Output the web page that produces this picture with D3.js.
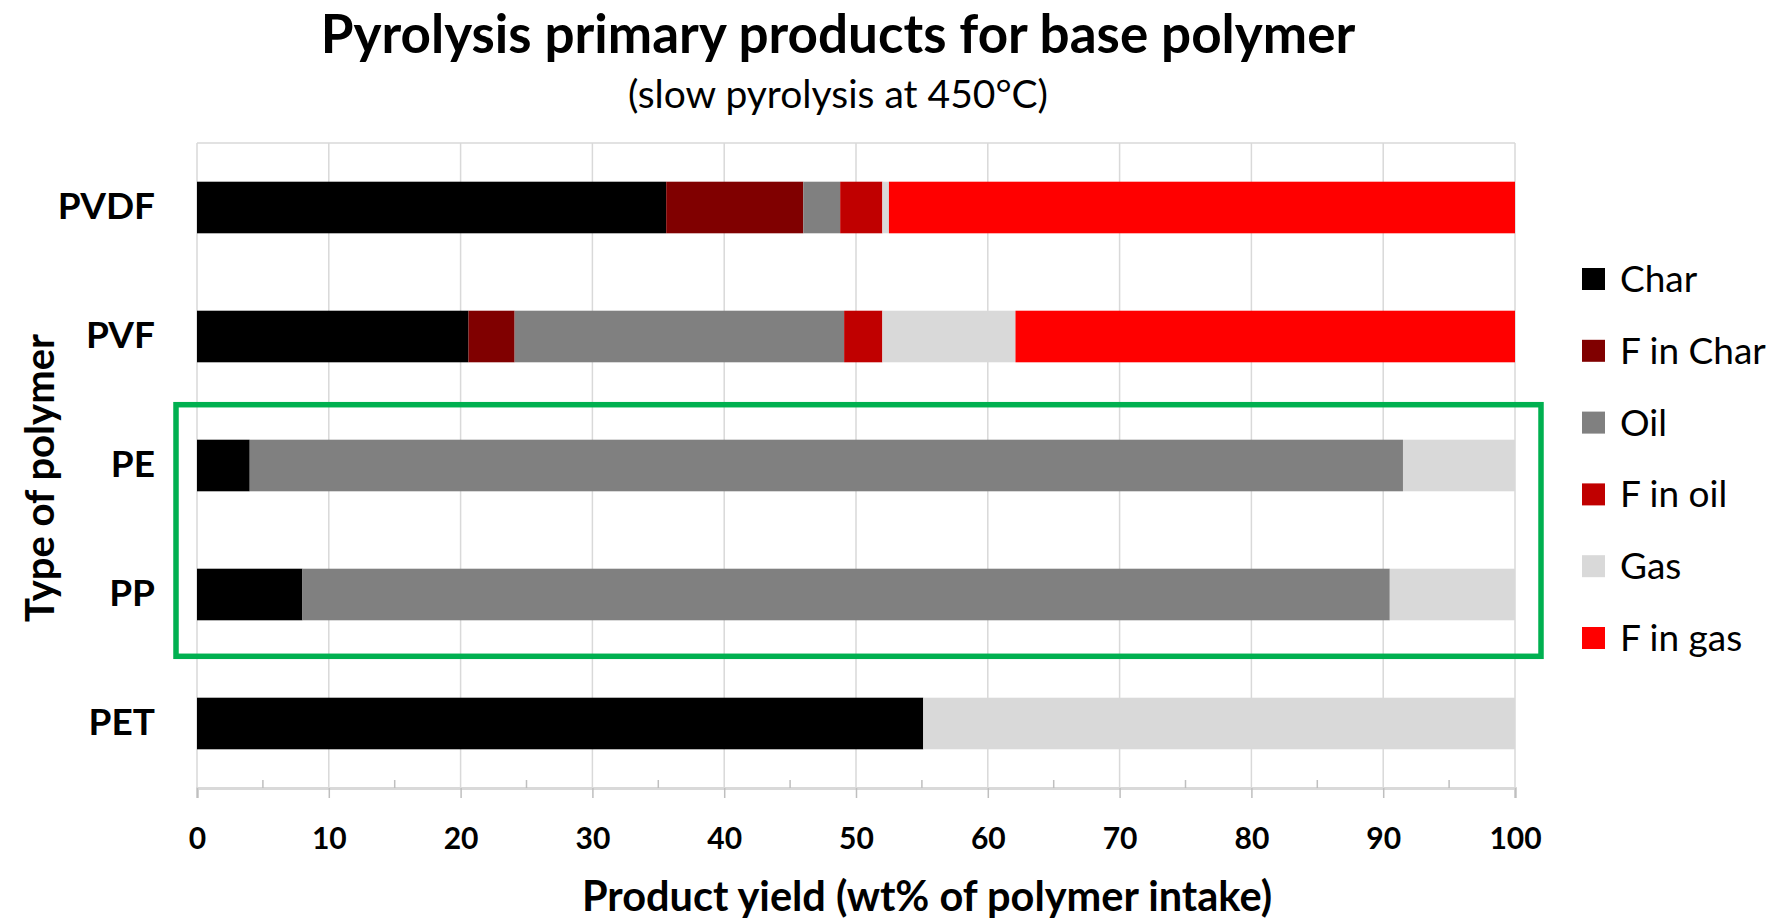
<!DOCTYPE html>
<html>
<head>
<meta charset="utf-8">
<script src="https://cdn.jsdelivr.net/npm/d3@7"></script>
<style>
  body { margin: 0; background: #fff; }
  svg { display: block; font-family: Lato, "Open Sans", sans-serif; }
</style>
</head>
<body>
<div class="container"></div>
<script>
// categories, top to bottom
const polymers = ['PVDF', 'PVF', 'PE', 'PP', 'PET'];

// product series (stack order left to right)
const products = ['Char', 'F in Char', 'Oil', 'F in oil', 'Gas', 'F in gas'];
const productColors = ['#000000', '#800000', '#808080', '#c00000', '#d9d9d9', '#ff0000'];

// values per series, in the order of polymers
const charVals    = [35.6, 20.6, 4.0, 8.0, 55.1];
const fCharVals   = [10.4, 3.5, 0, 0, 0];
const oilVals     = [2.8, 25.0, 87.5, 82.5, 0];
const fOilVals    = [3.2, 2.9, 0, 0, 0];
const gasVals     = [0.5, 10.1, 8.5, 9.5, 44.9];
const fGasVals    = [47.5, 37.9, 0, 0, 0];

const xTicks = [0, 10, 20, 30, 40, 50, 60, 70, 80, 90, 100];
const xMinorTicks = [5, 15, 25, 35, 45, 55, 65, 75, 85, 95];

// highlighted group
const boxed = ['PE', 'PP'];


// size of the page
const W = 1777, H = 920;
const margin = { top: 143, right: 262, bottom: 132, left: 197 };
const width = W - margin.left - margin.right;
const height = H - margin.top - margin.bottom;

const svg = d3.select('.container').append('svg')
    .attr('width', W)
    .attr('height', H);

// build rows for the stack
const seriesVals = [charVals, fCharVals, oilVals, fOilVals, gasVals, fGasVals];
const rows = polymers.map((p, i) => {
    const row = { polymer: p };
    products.forEach((k, j) => row[k] = seriesVals[j][i]);
    return row;
});
const stacked = d3.stack().keys(products)(rows);

// scales
const x = d3.scaleLinear().domain([0, 100]).range([0, width]);
const y = d3.scaleBand().domain(polymers).range([0, height])
    .paddingInner(0.6).paddingOuter(0.3);
const color = d3.scaleOrdinal().domain(products).range(productColors);

const g = svg.append('g')
    .attr('transform', `translate(${margin.left},${margin.top})`);

// gridlines
g.append('g')
    .selectAll('line')
    .data(xTicks)
    .join('line')
    .attr('x1', d => x(d)).attr('x2', d => x(d))
    .attr('y1', 0).attr('y2', height)
    .attr('stroke', '#d9d9d9')
    .attr('stroke-width', 1.5);

g.append('line')
    .attr('x1', 0).attr('x2', width)
    .attr('y1', 0).attr('y2', 0)
    .attr('stroke', '#d9d9d9')
    .attr('stroke-width', 1.5);

// bars
g.append('g')
    .selectAll('g')
    .data(stacked)
    .join('g')
    .attr('fill', d => color(d.key))
    .selectAll('rect')
    .data(d => d)
    .join('rect')
    .attr('x', d => x(d[0]))
    .attr('y', d => y(d.data.polymer))
    .attr('width', d => x(d[1]) - x(d[0]))
    .attr('height', y.bandwidth());

// x axis
const xAxis = d3.axisBottom(x)
    .tickValues(xTicks)
    .tickSize(10)
    .tickPadding(30);

const xg = g.append('g')
    .attr('transform', `translate(0,${height})`)
    .call(xAxis);
xg.select('.domain').attr('stroke', '#d9d9d9').attr('stroke-width', 3);
xg.selectAll('.tick line').attr('stroke', '#bfbfbf').attr('stroke-width', 1.5);
xg.selectAll('.tick text')
    .attr('font-family', 'Lato, sans-serif')
    .attr('font-size', 30)
    .attr('font-weight', 'bold')
    .attr('fill', '#000');

// minor ticks, pointing up
xg.append('g')
    .selectAll('line')
    .data(xMinorTicks)
    .join('line')
    .attr('x1', d => x(d)).attr('x2', d => x(d))
    .attr('y1', 0).attr('y2', -8)
    .attr('stroke', '#bfbfbf')
    .attr('stroke-width', 1.5);

// y category labels
const yAxis = d3.axisLeft(y).tickSize(0).tickPadding(42);
const yg = g.append('g').call(yAxis);
yg.select('.domain').remove();
yg.selectAll('.tick text')
    .attr('font-family', 'Lato, sans-serif')
    .attr('font-size', 37)
    .attr('font-weight', 'bold')
    .attr('fill', '#000');

// green box around PE and PP
const boxTop = y(boxed[0]) - 35;
const boxBottom = y(boxed[boxed.length - 1]) + y.bandwidth() + 36;
g.append('rect')
    .attr('x', x(0) - 21)
    .attr('y', boxTop)
    .attr('width', x(100) - x(0) + 47)
    .attr('height', boxBottom - boxTop)
    .attr('fill', 'none')
    .attr('stroke', '#00b050')
    .attr('stroke-width', 5.5);

// titles
svg.append('text')
    .attr('x', 838).attr('y', 53)
    .attr('text-anchor', 'middle')
    .attr('font-size', 53)
    .attr('font-weight', 'bold')
    .text('Pyrolysis primary products for base polymer');

svg.append('text')
    .attr('x', 838).attr('y', 108)
    .attr('text-anchor', 'middle')
    .attr('font-size', 39)
    .text('(slow pyrolysis at 450°C)');

svg.append('text')
    .attr('x', 927).attr('y', 911)
    .attr('text-anchor', 'middle')
    .attr('font-size', 41.5)
    .attr('font-weight', 'bold')
    .text('Product yield (wt% of polymer intake)');

svg.append('text')
    .attr('transform', 'translate(54,478) rotate(-90)')
    .attr('text-anchor', 'middle')
    .attr('font-size', 40)
    .attr('font-weight', 'bold')
    .text('Type of polymer');

// legend
const legend = svg.append('g')
    .attr('transform', 'translate(1582,279)');

const item = legend.selectAll('g')
    .data(products)
    .join('g')
    .attr('transform', (d, i) => `translate(0,${i * 71.8})`);

item.append('rect')
    .attr('x', 0).attr('y', -11)
    .attr('width', 23).attr('height', 22)
    .attr('fill', d => color(d));

item.append('text')
    .attr('x', 38).attr('y', 0)
    .attr('dy', '0.35em')
    .attr('font-size', 37)
    .text(d => d);
</script>
</body>
</html>
